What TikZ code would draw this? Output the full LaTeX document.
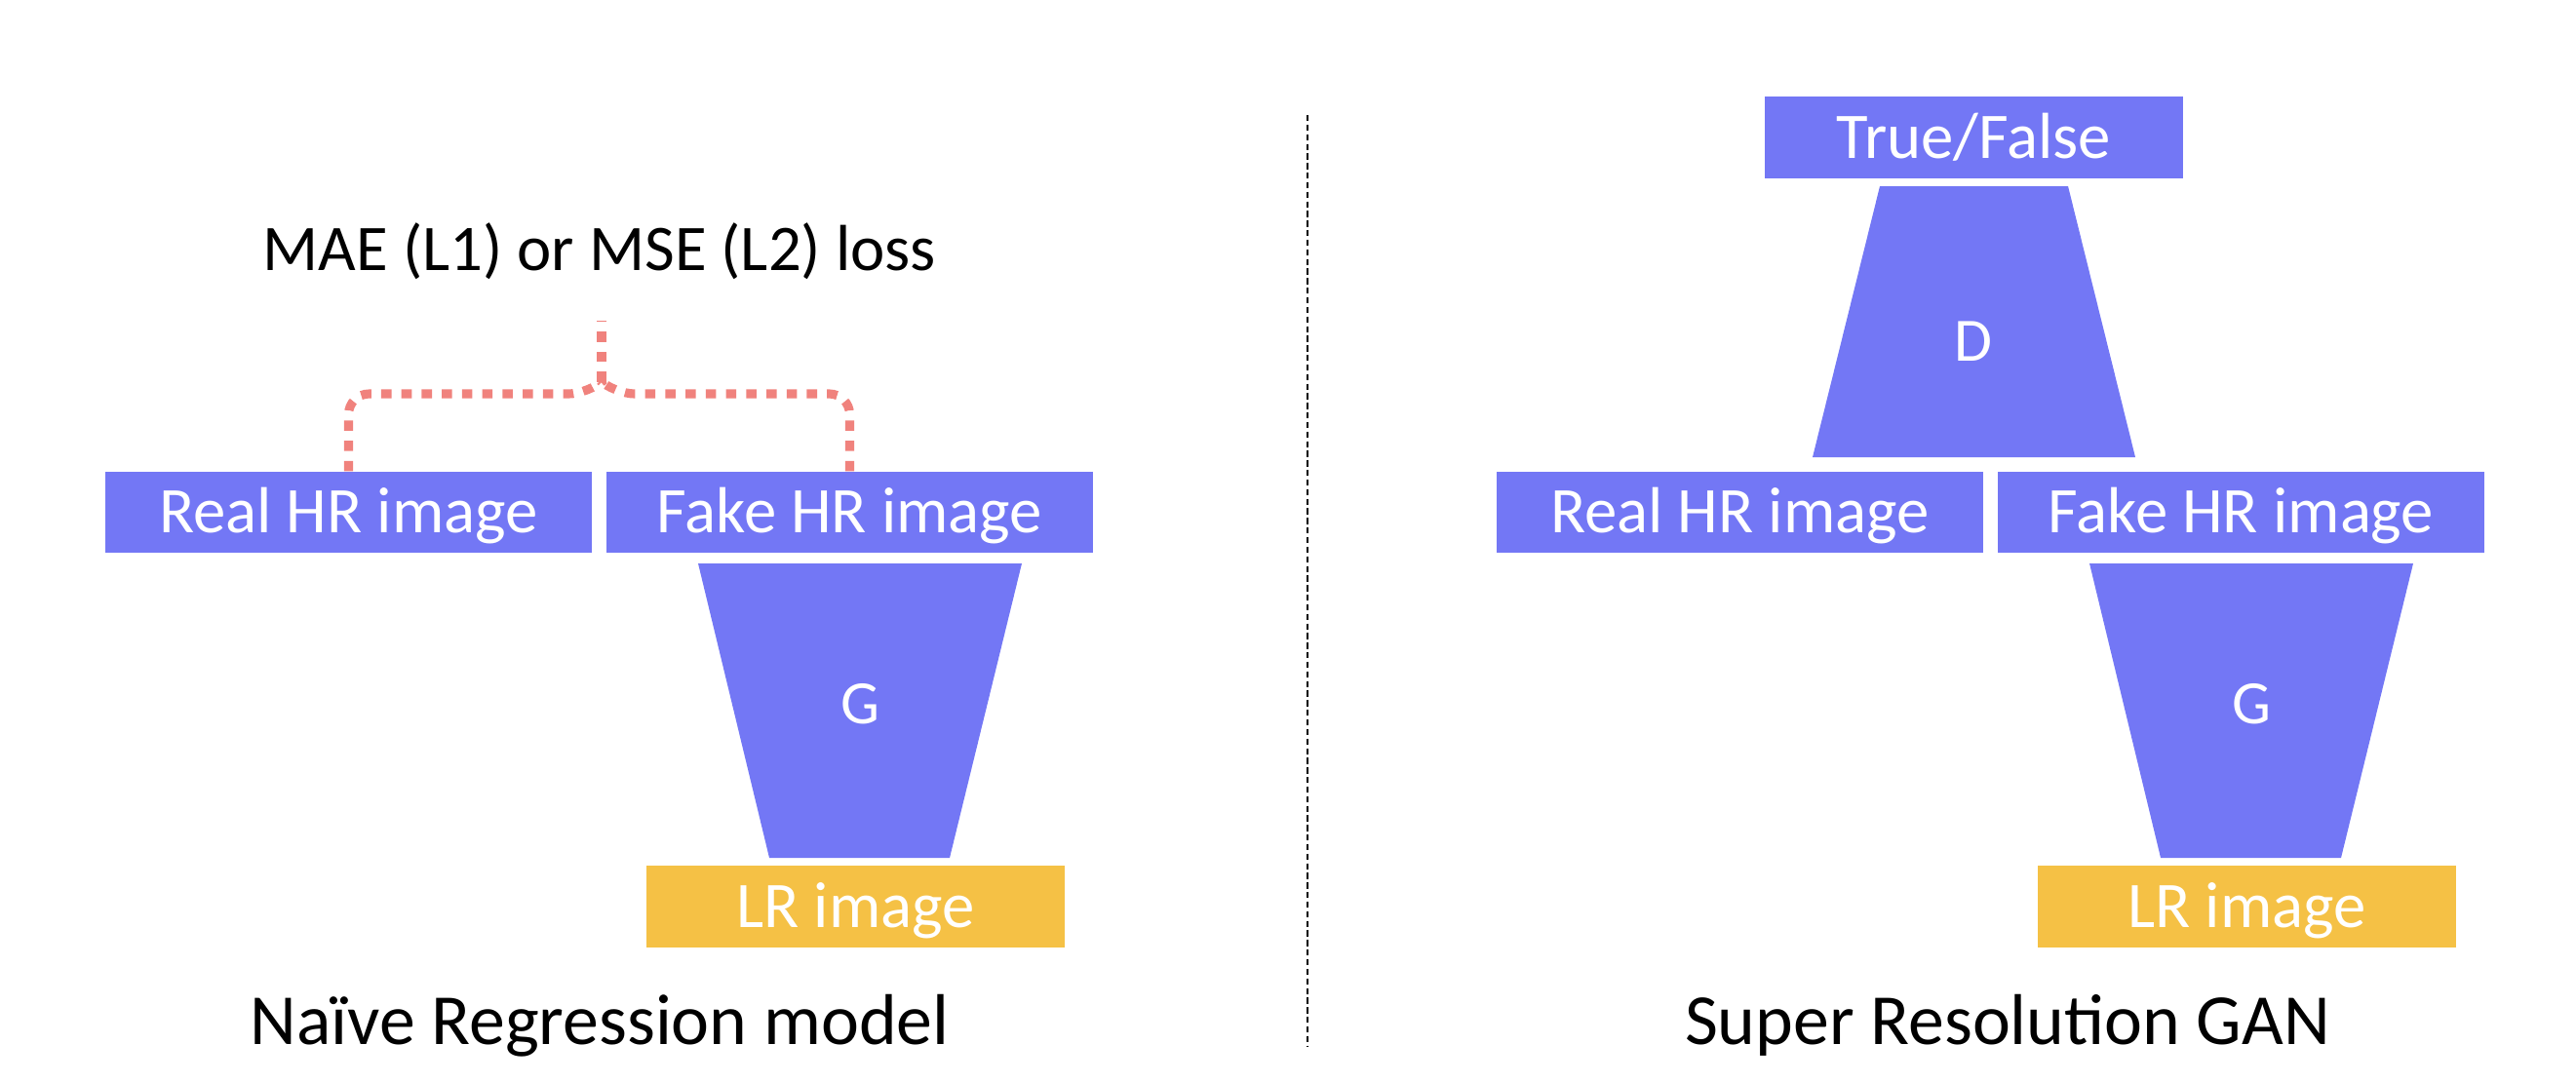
\documentclass[tikz,border=0pt]{standalone}
\usepackage{fontspec}
\setmainfont{Carlito}
\usepackage{tikz}

\definecolor{netblue}{HTML}{7377F5}
\definecolor{lrgold}{HTML}{F5C145}
\definecolor{losspink}{HTML}{F0827D}

\tikzset{
  imgbox/.style={fill=netblue, text=white, inner sep=0pt,
    minimum width=4.99cm, minimum height=0.83cm,
    font=\fontsize{19}{22}\selectfont, text height=12.2pt, text depth=0pt},
  lrbox/.style={imgbox, fill=lrgold, minimum width=4.29cm, minimum height=0.84cm},
  netlabel/.style={text=white, inner sep=0pt,
    font=\fontsize{18}{21}\selectfont, text height=11.6pt, text depth=0pt},
  caption/.style={inner sep=0pt, font=\fontsize{21}{25}\selectfont,
    text height=13.5pt, text depth=0pt},
  lossline/.style={losspink, line width=2.6pt, dash pattern=on 3pt off 2.9pt},
  divider/.style={black, line width=0.75pt, dash pattern=on 1.8pt off 1pt},
}

\begin{document}
\begin{tikzpicture}
    \useasboundingbox (0,0) rectangle (26.42,11.10);

    % Naive regression model
    \node[imgbox] (realL) at (3.575,5.845) {Real HR image};
    \node[imgbox] (fakeL) at (8.715,5.845) {Fake HR image};
    \fill[netblue] (7.16,5.32) -- (10.48,5.32) -- (9.74,2.30) -- (7.89,2.30) -- cycle;
    \node[netlabel] (genL) at (8.82,3.88) {G};
    \node[lrbox] (lrL) at (8.775,1.80) {LR image};

    % Loss
    \node[caption, font=\fontsize{19}{23}\selectfont, text height=12.2pt] (loss) at (6.15,8.54) {MAE (L1) or MSE (L2) loss};
    \coordinate (joinA) at (6.04,7.06);
    \coordinate (joinB) at (6.30,7.06);
    \coordinate (tip) at (6.17,7.18);
    \coordinate (stemL) at (6.17,7.81);
    \draw[lossline, rounded corners=6pt] (realL.north) |- (joinA) -- (tip);
    \draw[lossline, rounded corners=6pt] (fakeL.north) |- (joinB) -- (tip);
    \draw[lossline] (tip) -- (stemL);

    \node[caption] (titleL) at (6.15,0.62) {Naïve Regression model};

    % Divider
    \coordinate (divtop) at (13.41,9.92);
    \coordinate (divbot) at (13.41,0.37);
    \draw[divider] (divtop) -- (divbot);

    % Super resolution GAN
    \node[imgbox] (realR) at (17.845,5.845) {Real HR image};
    \node[imgbox] (fakeR) at (22.985,5.845) {Fake HR image};
    \fill[netblue] (21.43,5.32) -- (24.75,5.32) -- (24.01,2.30) -- (22.16,2.30) -- cycle;
    \node[netlabel] (genR) at (23.09,3.88) {G};
    \node[lrbox] (lrR) at (23.045,1.80) {LR image};
    \fill[netblue] (19.28,9.19) -- (21.21,9.19) -- (21.90,6.41) -- (18.59,6.41) -- cycle;
    \node[netlabel] (disc) at (20.24,7.60) {D};
    \node[lrbox, fill=netblue] (truefalse) at (20.245,9.69) {True/False};

    \node[caption] (titleR) at (20.59,0.62) {Super Resolution GAN};

\end{tikzpicture}
\end{document}
